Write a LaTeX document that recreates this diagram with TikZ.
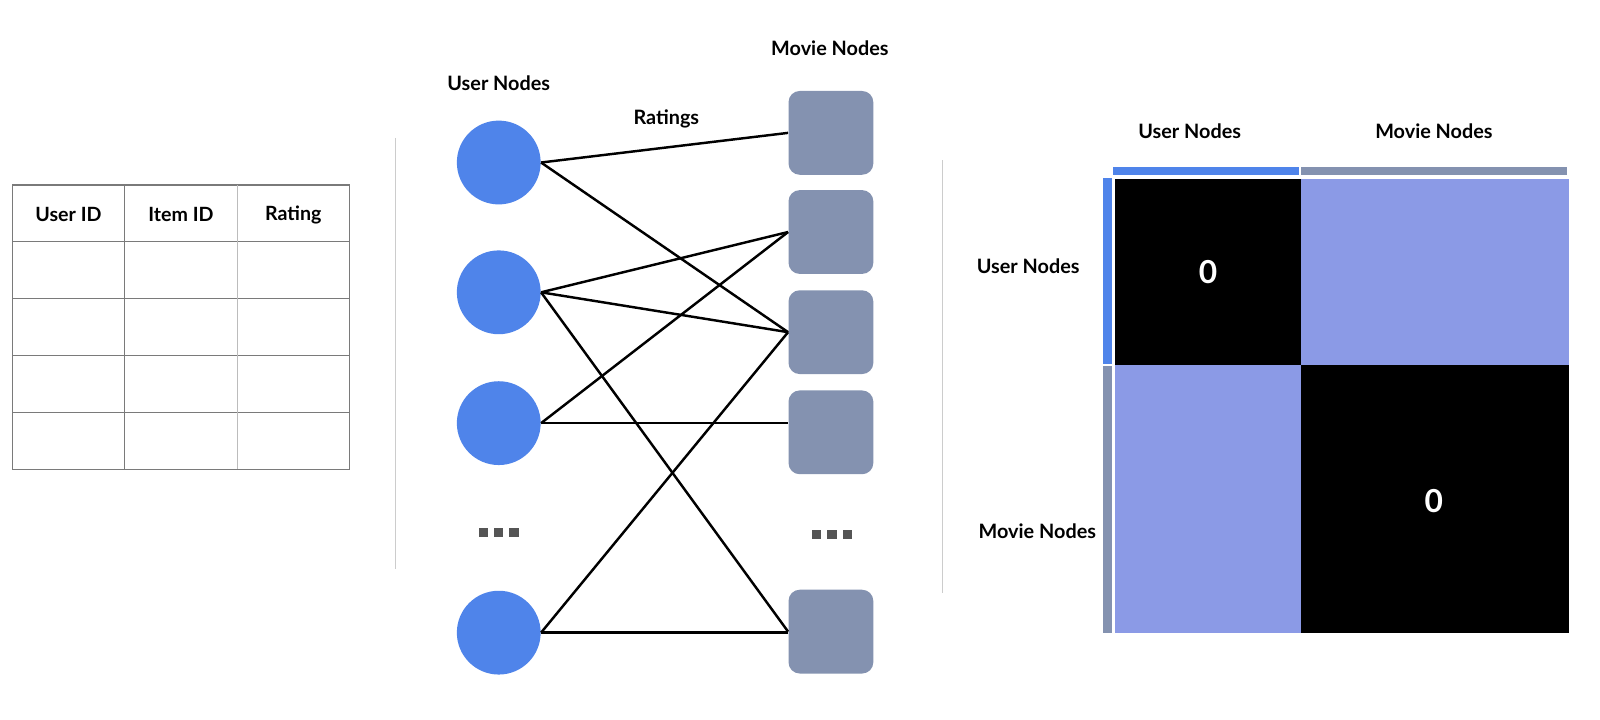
\documentclass[tikz,border=0pt]{standalone}
\usepackage{fontspec}
\setmainfont{Lato}
\definecolor{ublue}{HTML}{4F84EA}
\definecolor{mgray}{HTML}{8492B0}
\definecolor{lav}{HTML}{8B9AE6}
\definecolor{dotgray}{HTML}{555555}
\definecolor{sepgray}{HTML}{CCCCCC}
\definecolor{tabgray}{HTML}{7A7A7A}
\begin{document}
\begin{tikzpicture}[x=0.5pt,y=-0.5pt,
  unode/.style={circle,fill=ublue,draw=none,minimum size=41pt,inner sep=0pt},
  mnode/.style={rectangle,rounded corners=5.5pt,fill=mgray,draw=none,minimum width=41.5pt,minimum height=41pt,inner sep=0pt},
  lbl/.style={font=\fontsize{9.7}{11}\selectfont\bfseries,text=black,inner sep=0pt},
  thead/.style={font=\fontsize{9.6}{11}\selectfont\bfseries,text=black,inner sep=0pt},
  zero/.style={font=\fontsize{15.5}{17}\selectfont\bfseries,text=white,inner sep=0pt},
  edge/.style={black,line width=1.2pt},
  sep/.style={sepgray,line width=0.8pt},
  tline/.style={tabgray,line width=0.5pt},
  dotsq/.style={fill=dotgray,draw=none,minimum size=4.6pt,inner sep=0pt,rectangle}
]
\useasboundingbox (0,0) rectangle (1565.5,703.5);
\fill[white] (0,0) rectangle (1565.5,703.5);

% ---------- Table ----------
\foreach \yy in {181,236,292,348,404,459} \draw[tline] (12,\yy) -- (342,\yy);
\draw[tline] (12,181) -- (12,459);
\draw[tline] (122,181) -- (122,459);
\draw[tabgray!50,line width=0.5pt] (232,181) -- (232,459);
\draw[tline] (342,181) -- (342,459);
\node[thead] (h1) at (67,210) {User ID};
\node[thead] (h2) at (177,210) {Item ID};
\node[thead] (h3) at (287,210) {Rating};

% ---------- separators ----------
\draw[sep] (387,135) -- (387,557);
\draw[sep] (922,157) -- (922,580);

% ---------- Graph ----------
\node[lbl] (ulabel) at (488,81) {User Nodes};
\node[lbl] (mlabel) at (812,47) {Movie Nodes};
\node[lbl] (rlabel) at (652,116) {Ratings};

\node[unode] (u1) at (488,159) {};
\node[unode] (u2) at (488,286) {};
\node[unode] (u3) at (488,414) {};
\node[unode] (u5) at (488,619) {};

\node[mnode] (m1) at (813,130) {};
\node[mnode] (m2) at (813,227) {};
\node[mnode] (m3) at (813,325) {};
\node[mnode] (m4) at (813,423) {};
\node[mnode] (m5) at (813,618) {};

\foreach \dx/\nm in {-15/a,0/b,15/c} {
  \node[dotsq] (ud\nm) at (488+\dx,521) {};
  \node[dotsq] (md\nm) at (814+\dx,523) {};
}

\draw[edge] (u1.east) -- (m1.west);
\draw[edge] (u1.east) -- (m3.west);
\draw[edge] (u2.east) -- (m2.west);
\draw[edge] (u2.east) -- (m3.west);
\draw[edge] (u2.east) -- (m5.west);
\draw[edge] (u3.east) -- (m2.west);
\draw[edge] (u3.east) -- (u3.east -| m4.west);
\draw[edge] (u5.east) -- (m3.west);
\draw[edge] (u5.east) -- (u5.east -| m5.west);

% ---------- Matrix ----------
\node[lbl] (cu) at (1164,128) {User Nodes};
\node[lbl] (cm) at (1403,128) {Movie Nodes};
\node[lbl] (ru) at (1006,260) {User Nodes};
\node[lbl] (rm) at (1015,520) {Movie Nodes};

\fill[ublue] (1089,163) rectangle (1271,171);
\fill[mgray] (1273,163) rectangle (1533,171);
\fill[ublue] (1079,174) rectangle (1088,356);
\fill[mgray] (1079,358) rectangle (1088,619);

\fill[black] (1091,175) rectangle (1273,357);
\fill[lav]   (1273,175) rectangle (1535,357);
\fill[lav]   (1091,357) rectangle (1273,619);
\fill[black] (1273,357) rectangle (1535,619);

\node[zero] (z1) at (1182,266) {0};
\node[zero] (z2) at (1403,490) {0};
\end{tikzpicture}
\end{document}
